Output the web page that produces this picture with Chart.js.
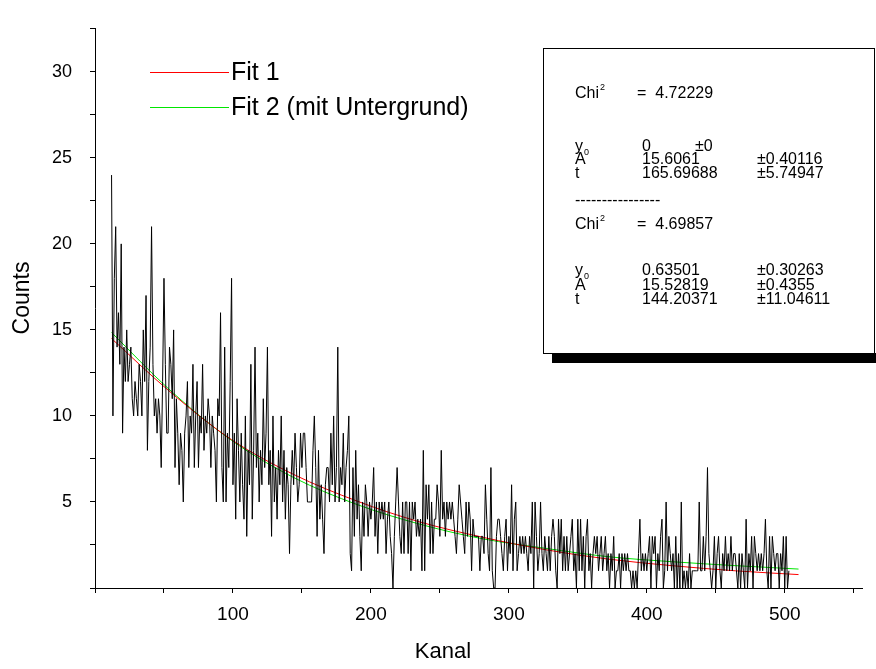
<!DOCTYPE html>
<html>
<head>
<meta charset="utf-8">
<script src="https://cdn.jsdelivr.net/npm/chart.js@4.4.1/dist/chart.umd.min.js"></script>
<style>
  body { margin: 0; background: #fff; }
  canvas { display: block; }
</style>
</head>
<body>
<canvas id="decayChart" width="876" height="669"></canvas>
<script>
// counts per channel, starting at channel 12
const firstChannel = 12;
const counts = [
  24,10,18,21,14,16,13,20,9,14,12,15,12,13,14,11,10,12,11,10,13,12,10,15,12,17,8,12,14,21,13,10,11,9,11,10,7,12,18,13,9,
  9,14,13,11,15,7,11,9,6,9,8,5,9,10,12,7,10,9,13,7,10,12,7,10,9,13,8,10,9,11,10,7,10,9,8,5,11,10,16,7,5,14,5,9,7,12,
  18,6,9,4,11,8,5,9,6,4,10,3,8,6,13,4,8,14,7,9,5,8,6,11,7,9,14,6,8,3,10,5,7,4,8,6,10,5,8,4,7,6,2,6,8,6,
  9,7,5,6,9,7,9,9,7,5,5,5,5,8,10,7,3,8,4,6,4,2,6,7,7,5,9,6,10,5,7,14,5,7,6,9,5,7,8,10,2,1,7,3,8,
  4,6,3,1,5,3,6,5,3,5,4,5,7,3,5,2,5,4,5,4,5,2,4,5,3,2,0,3,5,7,5,3,2,5,2,5,5,2,5,1,5,4,5,3,4,3,
  4,1,8,1,6,4,6,2,5,2,4,4,6,5,3,8,4,5,3,5,4,5,4,5,4,3,2,4,6,5,4,3,2,5,3,5,4,1,4,3,3,3,3,1,3,3,
  2,6,4,2,1,7,1,0,0,3,4,4,3,2,1,3,4,1,3,2,6,1,4,5,1,2,3,2,3,2,3,2,1,3,2,5,0,5,3,1,2,5,2,1,3,
  2,1,3,1,3,4,3,1,0,4,2,4,1,3,1,3,1,2,3,4,1,2,0,4,1,4,1,3,0,3,4,1,2,0,2,3,2,3,1,2,3,1,2,3,1,2,
  0,2,1,3,0,1,1,2,0,2,1,2,1,2,1,1,0,1,0,1,0,2,4,1,2,1,2,1,2,3,0,3,2,3,0,2,1,3,4,0,1,5,1,3,2,1,
  2,0,3,0,2,0,5,0,1,0,1,0,2,0,1,1,1,1,1,5,1,1,3,1,3,7,2,1,0,1,3,0,2,3,1,0,2,1,3,1,2,1,3,1,2,
  2,1,0,2,0,2,1,0,4,0,2,1,3,0,3,2,1,2,1,2,1,2,4,1,0,3,0,3,2,1,2,2,0,2,1,3,0,3,0,1
];

// fit curves
const fitChannels = [12, 53, 99, 144, 190, 235, 281, 327, 372, 418, 464, 510];
const fit1 = [14.5, 11.5, 8.62, 6.6, 5.05, 3.85, 2.95, 2.22, 1.68, 1.3, 1.0, 0.78];
const fit2 = [14.85, 11.6, 8.58, 6.42, 4.85, 3.72, 2.86, 2.3, 1.82, 1.53, 1.3, 1.1];

const xTicks = [100, 200, 300, 400, 500];
const yTicks = [5, 10, 15, 20, 25, 30];

const statsRows = [
  ['Chi2', '=  4.72229', ''],
  ['y0', '0', '±0'],
  ['A', '15.6061', '±0.40116'],
  ['t', '165.69688', '±5.74947'],
  ['Chi2', '=  4.69857', ''],
  ['y0', '0.63501', '±0.30263'],
  ['A', '15.52819', '±0.4355'],
  ['t', '144.20371', '±11.04611']
];

const FONT = '"Liberation Sans", Arial, sans-serif';
const RED = '#ff0000';
const GREEN = '#00e600';

const dataPoints = counts.map((c, i) => ({ x: firstChannel + i, y: c }));
const fit1Points = fitChannels.map((k, i) => ({ x: k, y: fit1[i] }));
const fit2Points = fitChannels.map((k, i) => ({ x: k, y: fit2[i] }));

// legend, stats box and axis titles
const overlay = {
  id: 'overlay',
  afterDraw(chart) {
    const ctx = chart.ctx;
    ctx.save();

    // legend
    ctx.lineWidth = 1;
    ctx.strokeStyle = RED;
    ctx.beginPath(); ctx.moveTo(150, 72.5); ctx.lineTo(229, 72.5); ctx.stroke();
    ctx.strokeStyle = GREEN;
    ctx.beginPath(); ctx.moveTo(150, 107.5); ctx.lineTo(229, 107.5); ctx.stroke();
    ctx.fillStyle = '#000';
    ctx.font = '25px ' + FONT;
    ctx.textBaseline = 'middle';
    ctx.textAlign = 'left';
    ctx.fillText('Fit 1', 231, 73);
    ctx.fillText('Fit 2 (mit Untergrund)', 231, 108);

    // stats box with shadow
    ctx.fillStyle = '#000';
    ctx.fillRect(552, 353, 324, 10);
    ctx.fillStyle = '#fff';
    ctx.fillRect(543, 48, 332, 305);
    ctx.strokeStyle = '#000';
    ctx.strokeRect(543.5, 48.5, 331, 305);

    ctx.fillStyle = '#000';
    const rowY = [94, 147, 160, 174, 225, 271, 286, 300];
    statsRows.forEach((row, i) => {
      const y = rowY[i];
      ctx.font = '16px ' + FONT;
      if (row[0] === 'Chi2') {
        ctx.fillText('Chi', 575, y);
        const w = ctx.measureText('Chi').width;
        ctx.font = '9px ' + FONT;
        ctx.fillText('2', 575 + w + 1, y - 6);
      } else if (row[0] === 'y0') {
        ctx.fillText('y', 575, y);
        ctx.font = '9px ' + FONT;
        ctx.fillText('0', 584, y + 6);
      } else {
        ctx.fillText(row[0], 575, y);
      }
      ctx.font = '16px ' + FONT;
      ctx.fillText(row[1], row[1].startsWith('=') ? 637 : 642, y);
      if (row[2]) ctx.fillText(row[2], row[2] === '±0' ? 695 : 757, y);
    });
    ctx.fillText('----------------', 575, 201);

    // axis titles
    ctx.font = '22px ' + FONT;
    ctx.textAlign = 'center';
    ctx.fillText('Kanal', 443, 652);
    ctx.font = '23px ' + FONT;
    ctx.translate(23, 298);
    ctx.rotate(-Math.PI / 2);
    ctx.fillText('Counts', 0, 0);
    ctx.restore();
  }
};

new Chart(document.getElementById('decayChart'), {
  type: 'line',
  data: {
    datasets: [
      { label: 'Daten', data: dataPoints, borderColor: '#000', borderWidth: 1 },
      { label: 'Fit 1', data: fit1Points, borderColor: RED, borderWidth: 1, cubicInterpolationMode: 'monotone' },
      { label: 'Fit 2 (mit Untergrund)', data: fit2Points, borderColor: GREEN, borderWidth: 1, cubicInterpolationMode: 'monotone' }
    ]
  },
  options: {
    responsive: false,
    animation: false,
    events: [],
    layout: { padding: { top: 15, right: 14, left: 0, bottom: 0 } },
    elements: { point: { radius: 0 }, line: { tension: 0 } },
    plugins: { legend: { display: false }, tooltip: { enabled: false } },
    scales: {
      x: {
        type: 'linear',
        min: 0,
        max: 556,
        afterFit: s => { s.height = 81; },
        border: { display: true, color: '#000', width: 1 },
        grid: { drawOnChartArea: false, drawTicks: true, tickLength: 5, color: '#000' },
        ticks: {
          stepSize: 50,
          includeBounds: false,
          autoSkip: false,
          maxRotation: 0,
          padding: 10,
          color: '#000',
          font: { family: FONT, size: 19 },
          callback: v => xTicks.includes(v) ? v : ''
        }
      },
      y: {
        min: 0,
        max: 32.5,
        afterFit: s => { s.width = 95; },
        border: { display: true, color: '#000', width: 1 },
        grid: { drawOnChartArea: false, drawTicks: true, tickLength: 5, color: '#000' },
        ticks: {
          stepSize: 2.5,
          includeBounds: false,
          autoSkip: false,
          padding: 18,
          color: '#000',
          font: { family: FONT, size: 18 },
          callback: v => yTicks.includes(v) ? v : ''
        }
      }
    }
  },
  plugins: [overlay]
});
</script>
</body>
</html>
